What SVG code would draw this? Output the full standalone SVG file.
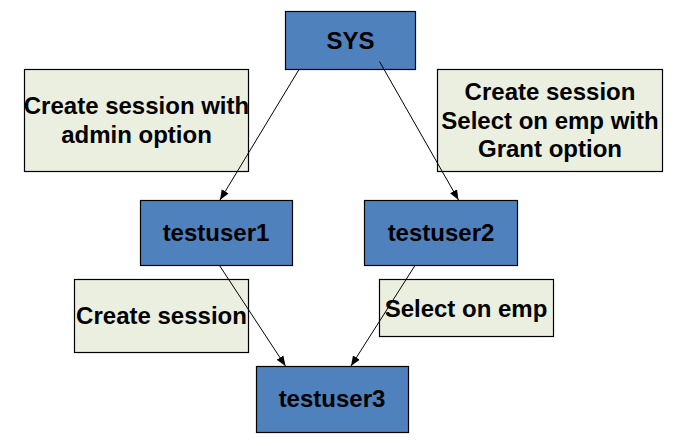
<svg xmlns="http://www.w3.org/2000/svg" width="679" height="446" viewBox="0 0 679 446">
<style>
.node{fill:#4F81BD;stroke:#000;stroke-width:1.2}
.note{fill:#EBEFDF;stroke:#000;stroke-width:1.2}
text{font-family:"Liberation Sans",Arial,sans-serif;font-weight:bold;font-size:24px;fill:#000;text-anchor:middle}
.conn{stroke:#000;stroke-width:1;fill:none;marker-end:url(#arr)}
</style>
<defs>
<marker id="arr" viewBox="0 0 10 10" refX="10" refY="5" markerWidth="10" markerHeight="10" markerUnits="userSpaceOnUse" orient="auto">
<path d="M0,1 L10,5 L0,9 z" fill="#000"/>
</marker>
</defs>
<rect width="679" height="446" fill="#fff"/>
<g id="note-admin"><rect class="note" x="24.5" y="69.5" width="224" height="102"/><text x="136.5" y="114">Create session with</text><text x="136.5" y="143">admin option</text></g>
<g id="note-grant"><rect class="note" x="437.5" y="69.5" width="225" height="102"/><text x="550" y="100">Create session</text><text x="550" y="128.5">Select on emp with</text><text x="550" y="157">Grant option</text></g>
<g id="note-session"><rect class="note" x="74.5" y="279.5" width="174" height="73"/><text x="161.5" y="323.5">Create session</text></g>
<g id="note-select"><rect class="note" x="379.5" y="279.5" width="174" height="57"/><text x="466" y="317">Select on emp</text></g>
<g id="SYS"><rect class="node" x="285.5" y="11.5" width="130" height="58"/><text x="350.5" y="48.5">SYS</text></g>
<g id="testuser1"><rect class="node" x="140.5" y="200.5" width="152" height="65"/><text x="216" y="241">testuser1</text></g>
<g id="testuser2"><rect class="node" x="364.5" y="200.5" width="153" height="65"/><text x="441" y="241">testuser2</text></g>
<g id="testuser3"><rect class="node" x="256.5" y="366.5" width="152" height="66"/><text x="332" y="407">testuser3</text></g>
<g id="connectors">
<line class="conn" x1="299" y1="69.5" x2="220" y2="200"/>
<line class="conn" x1="379.5" y1="61.5" x2="458.5" y2="200"/>
<line class="conn" x1="219.5" y1="265.5" x2="285.5" y2="366"/>
<line class="conn" x1="415" y1="265.5" x2="351" y2="366"/>
</g>
</svg>
